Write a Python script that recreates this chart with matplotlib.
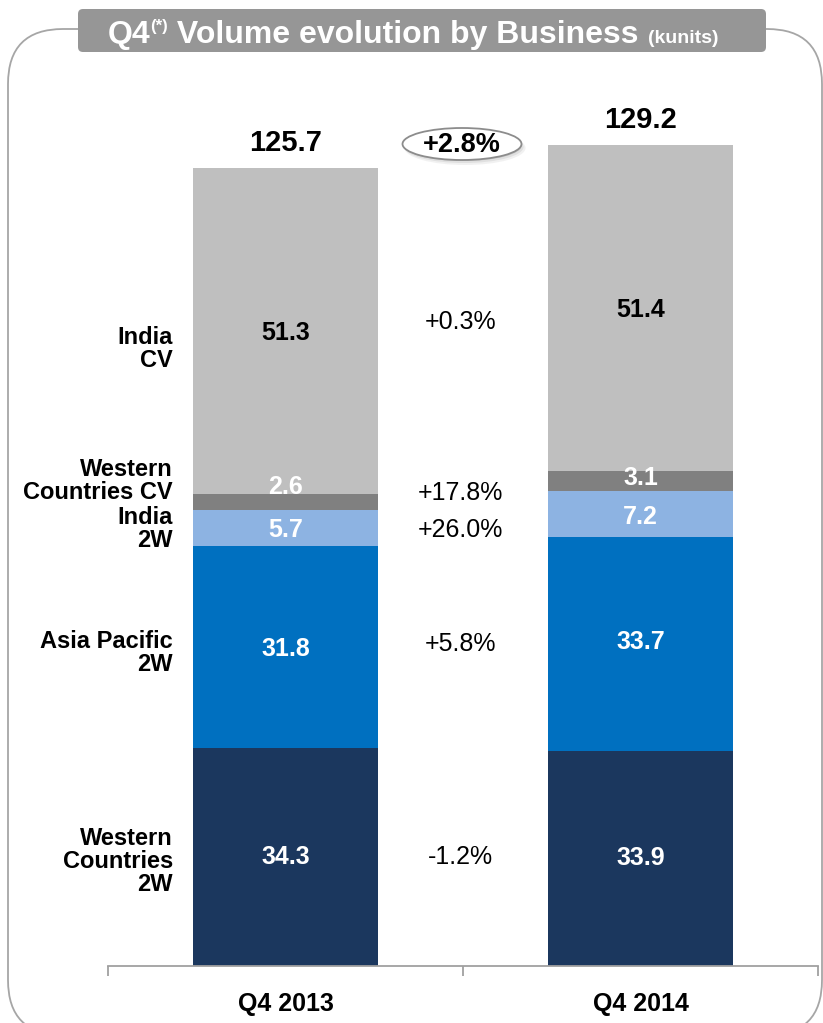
import numpy as np
import matplotlib.pyplot as plt
from matplotlib.patches import FancyBboxPatch, Ellipse

plt.rcParams['font.family'] = ['Liberation Sans', 'DejaVu Sans']

# Volumes in kunits, stacked from the bottom up
periods = ['Q4 2013', 'Q4 2014']
businesses = ['Western\nCountries\n2W', 'Asia Pacific\n2W', 'India\n2W',
              'Western\nCountries CV', 'India\nCV']
wc_2w = [34.3, 33.9]
ap_2w = [31.8, 33.7]
india_2w = [5.7, 7.2]
wc_cv = [2.6, 3.1]
india_cv = [51.3, 51.4]
totals = [125.7, 129.2]
growth = ['-1.2%', '+5.8%', '+26.0%', '+17.8%', '+0.3%']
total_growth = '+2.8%'

colors = ['#1B375E', '#0070C0', '#8DB3E2', '#808080', '#BFBFBF']
value_colors = ['white', 'white', 'white', 'white', 'black']

W, H = 823, 1023
fig = plt.figure(figsize=(W / 100, H / 100), dpi=100)

# background layer in pixel units (y down) for the frame, title and badge
bg = fig.add_axes([0, 0, 1, 1], zorder=0)
bg.set_xlim(0, W)
bg.set_ylim(H, 0)
bg.axis('off')

bg.add_patch(FancyBboxPatch((8, 29), 814, 1006, boxstyle='round,pad=0,rounding_size=55',
                            fc='white', ec='#A6A6A6', lw=1.3))
bg.add_patch(FancyBboxPatch((78, 9), 688, 43, boxstyle='round,pad=0,rounding_size=5',
                            fc='#969696', ec='none'))

# title built from runs of text with different sizes
renderer = fig.canvas.get_renderer()
x = 108
for s, size, rise in [('Q4', 23, 0), ('(*)', 12, 12), (' Volume evolution by Business ', 23, 0),
                      ('(kunits)', 14, 0)]:
    t = bg.text(x, 43 - rise, s, fontsize=size, fontweight='bold', color='white',
                ha='left', va='baseline')
    x += t.get_window_extent(renderer).width

# total growth badge
for i, a in enumerate([0.10, 0.15, 0.25]):
    bg.add_patch(Ellipse((465 - i, 148 - i), 121 - 2 * i, 34 - 2 * i, fc='#7F7F7F', ec='none', alpha=a))
bg.add_patch(Ellipse((462, 144), 119, 32, fc='white', ec='#8C8C8C', lw=1.3))
bg.text(462, 145, total_growth, fontsize=19.5, fontweight='bold', ha='center', va='center')

# stacked bars
ax = fig.add_axes([108 / W, (H - 966) / H, 710 / W, 866 / H], zorder=1)
ax.patch.set_alpha(0)
xpos = np.arange(len(periods))
width = 0.52
series = [wc_2w, ap_2w, india_2w, wc_cv, india_cv]
bottom = np.zeros(len(periods))
mids = []
for vals, c in zip(series, colors):
    vals = np.array(vals)
    ax.bar(xpos, vals, width, bottom=bottom, color=c, edgecolor='none')
    mids.append(bottom + vals / 2)
    bottom = bottom + vals

value_dy = [[0, 0], [-1.5, 1.5], [-1.5, -2], [11, 2], [-2, -1.5]]
for k, (vals, col) in enumerate(zip(series, value_colors)):
    for i in range(len(periods)):
        ax.annotate(f'{vals[i]:.1f}', (xpos[i], mids[k][i]), xytext=(0, value_dy[k][i]),
                    textcoords='offset points', ha='center', va='center',
                    fontsize=18, fontweight='bold', color=col)

for i in range(len(periods)):
    ax.annotate(f'{totals[i]:.1f}', (xpos[i], bottom[i]), xytext=(0, 12),
                textcoords='offset points', ha='center', va='baseline',
                fontsize=21, fontweight='bold')

# business names on the left and growth rates between the bars
name_dy = [-3.5, -4.5, -0.5, 15, -13]
growth_dy = [0, 2, -1.5, 6, 6]
for k in range(len(businesses)):
    ax.annotate(businesses[k], (xpos[0] - width / 2, mids[k][0]), xytext=(-14.5, name_dy[k]),
                textcoords='offset points', ha='right', va='center', multialignment='right',
                fontsize=17, fontweight='bold', linespacing=1.0)
    ax.annotate(growth[k], (0.5, mids[k][0]), xytext=(-2, growth_dy[k]),
                textcoords='offset points', ha='center', va='center', fontsize=18)

ax.set_xlim(-0.5, 1.5)
ax.set_ylim(0, 866 / 6.35)
for side in ['top', 'left', 'right']:
    ax.spines[side].set_visible(False)
ax.spines['bottom'].set_color('#A0A0A0')
ax.spines['bottom'].set_linewidth(1.3)
ax.set_yticks([])
ax.set_xticks(xpos, periods, fontsize=18, fontweight='bold')
ax.tick_params(axis='x', which='major', length=0, pad=19)
ax.set_xticks([-0.5, 0.5, 1.5], minor=True)
ax.tick_params(axis='x', which='minor', length=7, width=1.3, color='#A0A0A0', direction='out')

fig.savefig('out.png', dpi=100)
